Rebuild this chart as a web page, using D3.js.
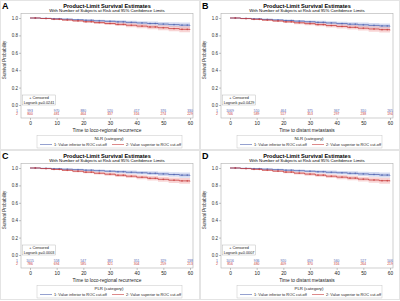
<!DOCTYPE html>
<html lang="en">
<head>
<meta charset="UTF-8">
<title>Product-Limit Survival Estimates</title>
<script src="https://d3js.org/d3.v7.min.js"></script>
<style>
    body { margin: 0; background: #fff; }
    svg { display: block; font-family: "Liberation Sans", Arial, sans-serif; }
</style>
</head>
<body>
<svg id="chart" width="400" height="301"></svg>
<script>
// time grid (months) and tick labels
const times = [0, 4, 8, 12, 16, 20, 24, 28, 32, 36, 40, 44, 48, 52, 56, 60];
const xTicks = [0, 10, 20, 30, 40, 50, 60];
const yTicks = [0, 0.2, 0.4, 0.6, 0.8, 1.0];
const censorTimes = [2, 6, 9, 11, 14, 18, 21, 23, 26, 30, 33, 35, 38, 42, 45, 47, 50, 54, 57, 59];

// survival estimates, group 1 (inferior) and group 2 (superior)
const survA1 = [1, .996, .991, .986, .980, .974, .968, .962, .956, .950, .943, .937, .930, .924, .918, .912];
const survA2 = [1, .994, .986, .977, .967, .957, .947, .937, .927, .917, .907, .897, .888, .878, .870, .864];
const survB1 = [1, .995, .990, .984, .978, .971, .964, .957, .950, .943, .936, .929, .922, .915, .909, .903];
const survB2 = [1, .993, .985, .976, .966, .956, .945, .935, .924, .913, .903, .893, .883, .874, .866, .858];
const survC1 = [1, .996, .991, .986, .981, .975, .969, .963, .957, .951, .945, .939, .932, .925, .918, .912];
const survC2 = [1, .993, .984, .974, .963, .952, .940, .929, .917, .906, .894, .882, .870, .860, .852, .846];
const survD1 = [1, .996, .992, .987, .981, .975, .969, .963, .957, .951, .945, .939, .932, .926, .919, .913];
const survD2 = [1, .993, .985, .975, .964, .953, .941, .930, .918, .906, .895, .884, .872, .862, .854, .848];

// half-width of the 95% confidence band
const ci1 = [0, .003, .005, .007, .009, .011, .013, .015, .017, .019, .021, .023, .025, .027, .029, .031];
const ci2 = [0, .004, .006, .009, .011, .013, .016, .018, .020, .022, .024, .026, .028, .031, .034, .037];

// numbers at risk
const riskA1 = [993, 970, 880, 520, 417, 376, 330];
const riskA2 = [800, 481, 464, 337, 316, 274, 229];
const riskB1 = [1069, 510, 464, 375, 367, 310, 265];
const riskB2 = [746, 589, 517, 353, 297, 238, 194];
const riskC1 = [1015, 558, 547, 381, 351, 329, 238];
const riskC2 = [786, 694, 585, 321, 304, 259, 213];
const riskD1 = [1016, 936, 920, 659, 560, 527, 506];
const riskD2 = [856, 480, 409, 370, 316, 264, 219];

const letters = ['A', 'B', 'C', 'D'];
const pValues = ['0.0241', '0.0429', '0.0003', '0.0007'];
const xLabels = ['Time to loco-regional recurrence', 'Time to distant metastasis',
                 'Time to loco-regional recurrence', 'Time to distant metastasis'];
const legendTitles = ['NLR (category)', 'NLR (category)', 'PLR (category)', 'PLR (category)'];
const groupNames = ['1: Value inferior to ROC cut-off', '2: Value superior to ROC cut-off'];

const panels = [
    { s1: survA1, s2: survA2, r1: riskA1, r2: riskA2 },
    { s1: survB1, s2: survB2, r1: riskB1, r2: riskB2 },
    { s1: survC1, s2: survC2, r1: riskC1, r2: riskC2 },
    { s1: survD1, s2: survD2, r1: riskD1, r2: riskD2 }
];

const lineCol = ['#4f63b0', '#c63a3a'];
const bandCol = ['#9fb0e0', '#f0a0a0'];

const svg = d3.select('#chart');

const x = d3.scaleLinear().domain([0, 60]).range([30, 190]);
const y = d3.scaleLinear().domain([0, 1]).range([105, 18]);

panels.forEach((p, i) => {
    const ox = (i % 2) * 200, oy = Math.floor(i / 2) * 150;
    const g = svg.append('g').attr('transform', `translate(${ox},${oy})`);

    // panel border
    g.append('rect').attr('x', 0.5).attr('y', 0.5).attr('width', 199).attr('height', 149)
        .attr('fill', 'none').attr('stroke', '#e4e4e4').attr('stroke-width', 1);

    g.append('text').attr('x', 2).attr('y', 9).attr('font-size', 9).attr('font-weight', 'bold')
        .text(letters[i]);

    g.append('text').attr('x', 107).attr('y', 7.5).attr('text-anchor', 'middle')
        .attr('font-size', 5.6).attr('font-weight', 'bold').text('Product-Limit Survival Estimates');
    g.append('text').attr('x', 107).attr('y', 12).attr('text-anchor', 'middle')
        .attr('font-size', 4.3).text('With Number of Subjects at Risk and 95% Confidence Limits');

    // frame
    g.append('rect').attr('x', 21).attr('y', 13.5).attr('width', 172).attr('height', 104.5)
        .attr('fill', 'none').attr('stroke', '#b0b0b0').attr('stroke-width', 0.6);

    // bands and curves
    const series = [p.s1, p.s2];
    const cis = [ci1, ci2];
    series.forEach((s, k) => {
        const pts = times.map((t, j) => ({ t, s: s[j], c: cis[k][j] }));
        const area = d3.area().curve(d3.curveStepAfter)
            .x(d => x(d.t)).y0(d => y(d.s - d.c)).y1(d => y(Math.min(1, d.s + d.c)));
        g.append('path').datum(pts).attr('d', area)
            .attr('fill', bandCol[k]).attr('fill-opacity', 0.45);
    });
    series.forEach((s, k) => {
        const pts = times.map((t, j) => ({ t, s: s[j] }));
        const line = d3.line().curve(d3.curveStepAfter).x(d => x(d.t)).y(d => y(d.s));
        g.append('path').datum(pts).attr('d', line)
            .attr('fill', 'none').attr('stroke', lineCol[k]).attr('stroke-width', 0.8);
        // censor marks
        const sAt = t => s[d3.bisectRight(times, t) - 1];
        g.selectAll(null).data(censorTimes).enter().append('path')
            .attr('d', t => `M${x(t) - 0.9},${y(sAt(t))}h1.8M${x(t)},${y(sAt(t)) - 0.9}v1.8`)
            .attr('stroke', lineCol[k]).attr('stroke-width', 0.5);
    });

    // y axis
    const yAxis = g.append('g').attr('transform', 'translate(21,0)')
        .call(d3.axisLeft(y).tickValues(yTicks).tickFormat(d3.format('.1f')).tickSize(2).tickSizeOuter(0));
    yAxis.select('.domain').remove();
    yAxis.selectAll('line').attr('stroke', '#888').attr('stroke-width', 0.5);
    yAxis.selectAll('text').attr('font-size', 4.5).attr('fill', '#333').attr('x', -3);

    g.append('text').attr('transform', 'translate(6,60) rotate(-90)')
        .attr('text-anchor', 'middle').attr('font-size', 4.5).attr('fill', '#333')
        .text('Survival Probability');

    // x axis
    const xAxis = g.append('g').attr('transform', 'translate(0,118)')
        .call(d3.axisBottom(x).tickValues(xTicks).tickSize(2).tickSizeOuter(0));
    xAxis.select('.domain').remove();
    xAxis.selectAll('line').attr('stroke', '#888').attr('stroke-width', 0.5);
    xAxis.selectAll('text').attr('font-size', 4.8).attr('fill', '#222').attr('y', 3.5);

    g.append('text').attr('x', 107).attr('y', 131.5).attr('text-anchor', 'middle')
        .attr('font-size', 4.8).attr('fill', '#222').text(xLabels[i]);

    // censored / logrank box
    g.append('rect').attr('x', 22.5).attr('y', 95).attr('width', 33).attr('height', 10)
        .attr('fill', '#fff').attr('stroke', '#aaa').attr('stroke-width', 0.4);
    g.append('text').attr('x', 39).attr('y', 99).attr('text-anchor', 'middle')
        .attr('font-size', 3.8).attr('fill', '#222').text('+ Censored');
    g.append('text').attr('x', 39).attr('y', 103.6).attr('text-anchor', 'middle')
        .attr('font-size', 3.8).attr('fill', '#222').text('Logrank p=' + pValues[i]);

    // numbers at risk
    [p.r1, p.r2].forEach((r, k) => {
        const ry = 111.5 + k * 3.6;
        g.append('text').attr('x', 17).attr('y', ry).attr('text-anchor', 'middle')
            .attr('font-size', 3.6).attr('fill', lineCol[k]).text(k + 1);
        g.selectAll(null).data(r).enter().append('text')
            .attr('x', (d, j) => x(xTicks[j])).attr('y', ry).attr('text-anchor', 'middle')
            .attr('font-size', 3.4).attr('fill', lineCol[k]).text(d => d);
    });

    // legend
    g.append('rect').attr('x', 37).attr('y', 135.5).attr('width', 145).attr('height', 12.5)
        .attr('fill', '#fff').attr('stroke', '#bbb').attr('stroke-width', 0.4);
    g.append('text').attr('x', 109).attr('y', 140).attr('text-anchor', 'middle')
        .attr('font-size', 4.3).attr('fill', '#222').text(legendTitles[i]);
    groupNames.forEach((name, k) => {
        const lx = 40 + k * 72;
        g.append('line').attr('x1', lx).attr('x2', lx + 12).attr('y1', 144.5).attr('y2', 144.5)
            .attr('stroke', lineCol[k]).attr('stroke-width', 0.6);
        g.append('text').attr('x', lx + 14).attr('y', 146).attr('font-size', 3.9).attr('fill', '#222')
            .text(name);
    });
});
</script>
</body>
</html>
